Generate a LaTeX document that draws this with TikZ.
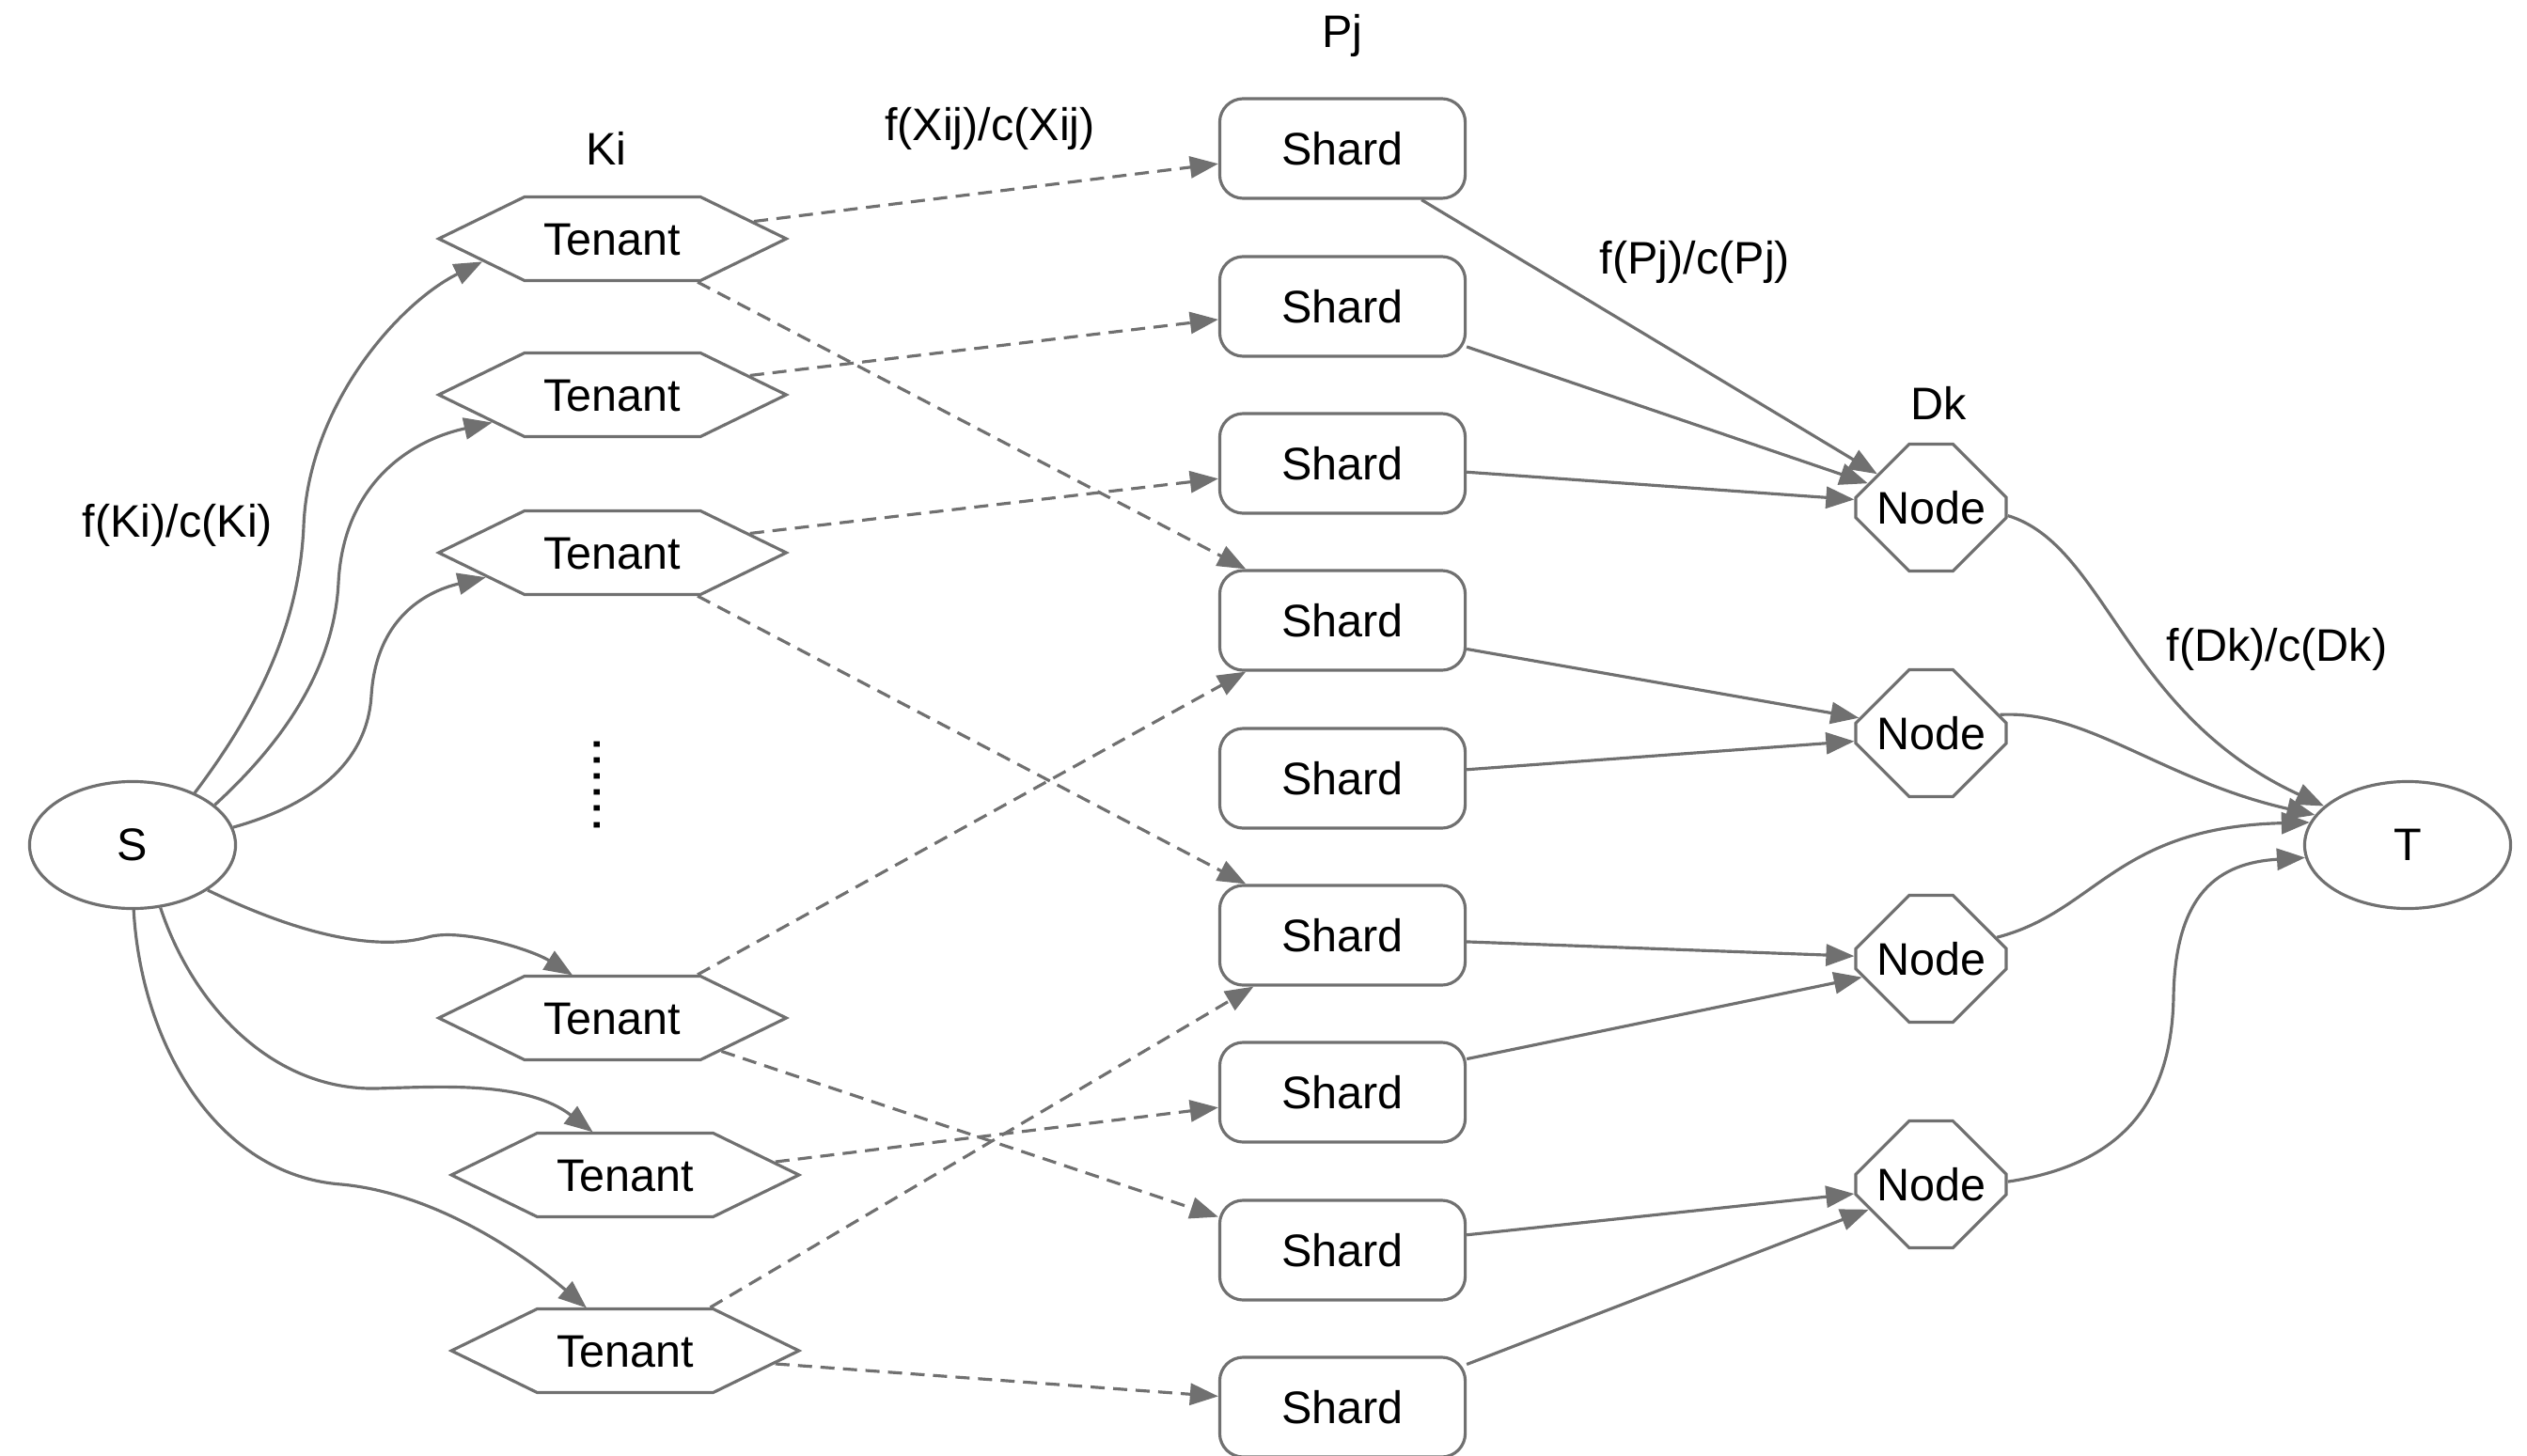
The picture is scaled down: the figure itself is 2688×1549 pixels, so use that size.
\documentclass[tikz,border=0pt]{standalone}
\usepackage{fontspec}
\setmainfont{Liberation Sans}
\usetikzlibrary{arrows.meta,shapes.symbols,shapes.misc,shapes.geometric}
\definecolor{linegray}{RGB}{112,112,112}
\begin{document}
\begin{tikzpicture}[x=0.01cm,y=-0.01cm,
  every node/.style={font=\fontsize{13.8}{16}\selectfont},
  tenant/.style={signal, signal to=east and west, signal pointer angle=52,
    draw=linegray, line width=0.9pt, text width=1.55cm, align=center,
    text height=0.36cm, text depth=0.02cm, inner xsep=0.16cm, inner ysep=0.255cm,
    minimum width=0pt, minimum height=0pt},
  shard/.style={rectangle, rounded corners=0.25cm, draw=linegray, line width=0.9pt,
    minimum width=2.61cm, minimum height=1.06cm, inner sep=0pt},
  dnode/.style={chamfered rectangle, chamfered rectangle xsep=0.475cm,
    chamfered rectangle ysep=0.39cm, draw=linegray, line width=0.9pt,
    minimum width=1.6cm, minimum height=1.35cm, inner sep=0pt},
  terminal/.style={ellipse, draw=linegray, line width=0.9pt,
    minimum width=2.19cm, minimum height=1.35cm, inner sep=0pt},
  edge/.style={draw=linegray, line width=0.9pt, -{Triangle[length=0.3cm,width=0.23cm]}},
  dedge/.style={edge, dash pattern=on 0.15cm off 0.09cm},
  lbl/.style={inner sep=0pt}
]
\useasboundingbox (0,0) rectangle (2688,1549);

% source and sink
\node[terminal] (S) at (141,899) {S};
\node[terminal] (T) at (2561,899) {T};

% tenants
\node[tenant] (t1) at (651.5,254) {Tenant};
\node[tenant] (t2) at (651.5,420) {Tenant};
\node[tenant] (t3) at (651.5,588) {Tenant};
\node[tenant] (t4) at (651.5,1083) {Tenant};
\node[tenant] (t5) at (665,1250) {Tenant};
\node[tenant] (t6) at (665,1437) {Tenant};
\node[rotate=90, anchor=base, inner sep=0pt, font=\fontsize{17.4}{20}\selectfont] (dots) at (638.5,835) {......};

% shards
\foreach \i/\y in {1/158,2/326,3/493,4/660,5/828,6/995,7/1162,8/1330,9/1497}
  \node[shard] (sh\i) at (1428,\y) {Shard};

% storage nodes
\foreach \i/\y in {1/540,2/780,3/1020,4/1260}
  \node[dnode] (n\i) at (2054,\y) {Node};

% column and edge labels
\node[lbl] (ki) at (645,158) {Ki};
\node[lbl] (pj) at (1428,38) {Pj};
\node[lbl] (dk) at (2062,429) {Dk};
\node[lbl] (fx) at (1053,137) {f(Xij)/c(Xij)};
\node[lbl] (fp) at (1803,279) {f(Pj)/c(Pj)};
\node[lbl] (fk) at (189,559) {f(Ki)/c(Ki)};
\node[lbl] (fd) at (2422,691) {f(Dk)/c(Dk)};

% source to tenants
\draw[edge] (S.40) .. controls (270,760) and (318,670) .. (323,560) .. controls (328,430) and (425,322) .. (t1.190);
\draw[edge] (S.26) .. controls (290,800) and (355,720) .. (360,620) .. controls (365,520) and (430,470) .. (t2.193);
\draw[edge] (S.10) .. controls (320,860) and (390,820) .. (395,740) .. controls (400,660) and (450,630) .. (t3.191);
\draw[edge] (S.-31) .. controls (320,995) and (400,1012) .. (455,997) .. controls (490,987) and (565,1010) .. (t4.133);
\draw[edge] (S.-66) .. controls (205,1070) and (290,1160) .. (400,1158) .. controls (470,1156) and (560,1150) .. (t5.127);
\draw[edge] (S.-89) .. controls (150,1110) and (230,1250) .. (363,1260) .. controls (450,1268) and (540,1320) .. (t6.132);

% tenants to shards
\draw[dedge] (t1.7) -- (sh1.187);
\draw[dedge] (t1.-27) -- (sh4.152);
\draw[dedge] (t2.8) -- (sh2.186);
\draw[dedge] (t3.8) -- (sh3.187);
\draw[dedge] (t3.-27) -- (sh6.152);
\draw[dedge] (t4.27) -- (sh4.208);
\draw[dedge] (t4.-17) -- (sh8.165);
\draw[dedge] (t5.5) -- (sh7.187);
\draw[dedge] (t6.27) -- (sh6.210);
\draw[dedge] (t6.-5) -- (sh9.175);

% shards to storage nodes
\draw[edge] (sh1.-33) -- (n1.148);
\draw[edge] (sh2.-18) -- (n1.159);
\draw[edge] (sh3.-4) -- (n1.174);
\draw[edge] (sh4.-13) -- (n2.168);
\draw[edge] (sh5.4) -- (n2.186);
\draw[edge] (sh6.-3) -- (n3.178);
\draw[edge] (sh7.15) -- (n3.195);
\draw[edge] (sh8.7) -- (n4.187);
\draw[edge] (sh9.19) -- (n4.202);

% storage nodes to sink
\draw[edge] (n1.-6) .. controls (2240,580) and (2260,760) .. (T.155);
\draw[edge] (n2.15) .. controls (2220,755) and (2300,830) .. (T.162);
\draw[edge] (n3.18) .. controls (2230,970) and (2250,880) .. (T.167);
\draw[edge] (n4.2) .. controls (2250,1240) and (2310,1180) .. (2312,1060) .. controls (2314,950) and (2360,918) .. (T.187);
\end{tikzpicture}
\end{document}
